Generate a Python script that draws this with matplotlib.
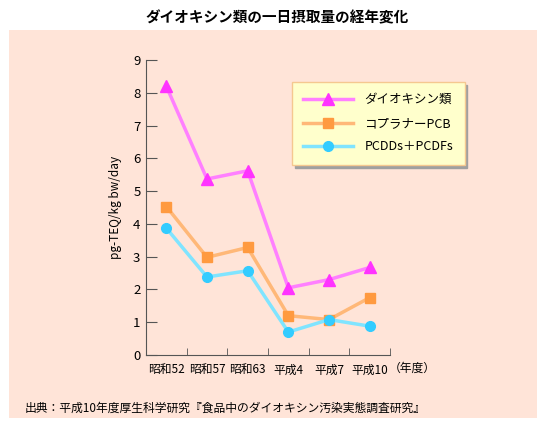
import matplotlib
matplotlib.use('Agg')
import matplotlib.pyplot as plt
from matplotlib.patches import Rectangle

plt.rcParams['font.family'] = ['Noto Sans CJK JP', 'DejaVu Sans']

# データ
years = ['昭和52', '昭和57', '昭和63', '平成4', '平成7', '平成10']
dioxin = [8.2, 5.37, 5.62, 2.05, 2.3, 2.67]
coplanar = [4.53, 2.98, 3.28, 1.2, 1.08, 1.75]
pcdd = [3.87, 2.38, 2.57, 0.7, 1.08, 0.88]

W, H = 554, 429
fig = plt.figure(figsize=(W / 100, H / 100), dpi=100)
fig.patch.set_facecolor('white')

# 背景パネル
fig.patches.append(Rectangle((9 / W, 1 - 418 / H), 528 / W, 388 / H,
                             transform=fig.transFigure, facecolor='#FFE4D8',
                             edgecolor='none', zorder=-5))

ax = fig.add_axes([146 / W, 1 - 355 / H, 244 / W, 295 / H])
ax.set_facecolor('none')

x = list(range(len(years)))
ax.plot(x, dioxin, color='#FF80FF', lw=2.5, marker='^', ms=8,
        mfc='#FF33FF', mec='#FF33FF', label='ダイオキシン類', clip_on=False)
ax.plot(x, coplanar, color='#FFB878', lw=2.5, marker='s', ms=7,
        mfc='#FF9A40', mec='#FF9A40', label='コプラナーPCB', clip_on=False)
ax.plot(x, pcdd, color='#80E4FF', lw=2.5, marker='o', ms=7,
        mfc='#33CCFF', mec='#33CCFF', label='PCDDs＋PCDFs', clip_on=False)

ax.set_xlim(-0.5, 5.5)
ax.set_ylim(0, 9)
ax.set_yticks(range(10))
ax.set_xticks(x)
ax.set_xticklabels(years, fontsize=8.5)
ax.set_xticks([i - 0.5 for i in range(7)], minor=True)
ax.tick_params(axis='x', which='major', length=0, pad=6)
ax.tick_params(axis='x', which='minor', direction='in', length=5, color='#555555')
ax.tick_params(axis='y', direction='in', length=8, color='#555555', labelsize=9.5, pad=4)
for s in ['top', 'right']:
    ax.spines[s].set_visible(False)
for s in ['left', 'bottom']:
    ax.spines[s].set_color('#555555')

ax.set_ylabel('pg-TEQ/kg bw/day', fontsize=8.5, labelpad=8)

fig.text(412 / W, 1 - 368 / H, '（年度）', fontsize=8.5, va='center', ha='center')

fig.text(0.5, 1 - 17 / H, 'ダイオキシン類の一日摂取量の経年変化', fontsize=10.5,
         fontweight='bold', ha='center', va='center')

fig.text(25 / W, 1 - 408 / H, '出典：平成10年度厚生科学研究『食品中のダイオキシン汚染実態調査研究』',
         fontsize=8.5, ha='left', va='center')

handles, labels = ax.get_legend_handles_labels()
leg = fig.legend(handles, labels, loc='upper left',
                 bbox_to_anchor=(292 / W, 1 - 82 / H), borderaxespad=0,
                 fontsize=9, frameon=True, fancybox=False, handlelength=4.0,
                 labelspacing=0.85, borderpad=0.9,
                 shadow={'color': '#A0A0A0', 'alpha': 1.0}, handletextpad=0.9)
leg.get_frame().set_facecolor('#FFFFCC')
leg.get_frame().set_edgecolor('#F5C890')
leg.get_frame().set_alpha(1.0)

fig.savefig('out.png', dpi=100)
